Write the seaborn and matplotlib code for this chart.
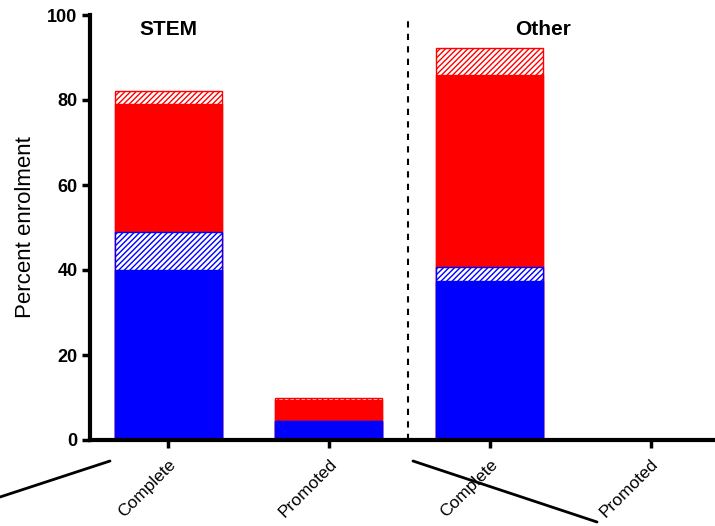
import numpy as np
import pandas as pd
import matplotlib
matplotlib.use("Agg")
import matplotlib.pyplot as plt
import seaborn as sns
from matplotlib.lines import Line2D

# bar groups (left to right) and their stacked segments, percent
categories = ["STEM Complete", "STEM Promoted", "Other Complete", "Other Promoted"]
tick_labels = ["Complete", "Promoted", "Complete", "Promoted"]
blue_solid = [40.0, 4.5, 37.5, 0.0]
blue_hatch = [9.0, 0.0, 3.3, 0.0]
red_solid = [30.0, 4.8, 45.2, 0.0]
red_hatch = [3.2, 0.6, 6.3, 0.0]
group_titles = ["STEM", "Other"]

sns.set_style("white")
plt.rcParams["font.family"] = ["Liberation Sans", "DejaVu Sans"]
plt.rcParams["hatch.linewidth"] = 1.0
plt.rcParams["text.color"] = "black"
plt.rcParams["axes.labelcolor"] = "black"
plt.rcParams["xtick.color"] = "black"
plt.rcParams["ytick.color"] = "black"

fig = plt.figure(figsize=(7.15, 5.26), dpi=100)
ax = fig.add_axes([90 / 715, 86 / 526, 625 / 715, 425 / 526])

layers = [blue_solid, blue_hatch, red_solid, red_hatch]
tops = np.cumsum(np.array(layers), axis=0)
styles = [
    dict(color="#0000ff", edgecolor="#0000ff", hatch=None),
    dict(color="white", edgecolor="#0000ff", hatch="//////"),
    dict(color="#ff0000", edgecolor="#ff0000", hatch=None),
    dict(color="white", edgecolor="#ff0000", hatch="//////"),
]

# draw from the tallest (top segment) down so lower segments cover it
for i in reversed(range(len(layers))):
    df = pd.DataFrame({"cat": categories, "val": tops[i]})
    st = styles[i]
    sns.barplot(data=df, x="cat", y="val", order=categories, ax=ax,
                color=st["color"], saturation=1, errorbar=None, width=0.665,
                edgecolor=st["edgecolor"], hatch=st["hatch"], linewidth=1.0)

ax.set_xlim(-0.485, 3.4)
ax.set_ylim(0, 100)
ax.set_yticks([0, 20, 40, 60, 80, 100])
ax.set_yticklabels(["0", "20", "40", "60", "80", "100"], fontsize=13, fontweight="bold")
ax.set_xticks(range(len(categories)))
ax.set_xticklabels(tick_labels, rotation=45, ha="right", rotation_mode="anchor", fontsize=12.5)
ax.set_xlabel("")
ax.set_ylabel("Percent enrolment", fontsize=16, labelpad=8)

for s in ["top", "right"]:
    ax.spines[s].set_visible(False)
for s in ["left", "bottom"]:
    ax.spines[s].set_linewidth(3)
    ax.spines[s].set_color("black")
ax.tick_params(axis="both", direction="out", length=6, width=2.5, color="black",
               bottom=True, left=True, pad=3)
ax.tick_params(axis="x", pad=6)

ax.axvline(1.49, color="black", linestyle=(0, (3, 3)), linewidth=1.5)

ax.text(0, 96.5, group_titles[0], ha="center", va="center", fontsize=15, fontweight="bold")
ax.text(2.33, 96.5, group_titles[1], ha="center", va="center", fontsize=15, fontweight="bold")

# stray connector lines under the axis
fig.add_artist(Line2D([0 / 715, 110 / 715], [1 - 497 / 526, 1 - 461 / 526],
                      color="black", linewidth=2))
fig.add_artist(Line2D([413 / 715, 597 / 715], [1 - 461 / 526, 1 - 522 / 526],
                      color="black", linewidth=2))

fig.savefig("out.png", dpi=100)
